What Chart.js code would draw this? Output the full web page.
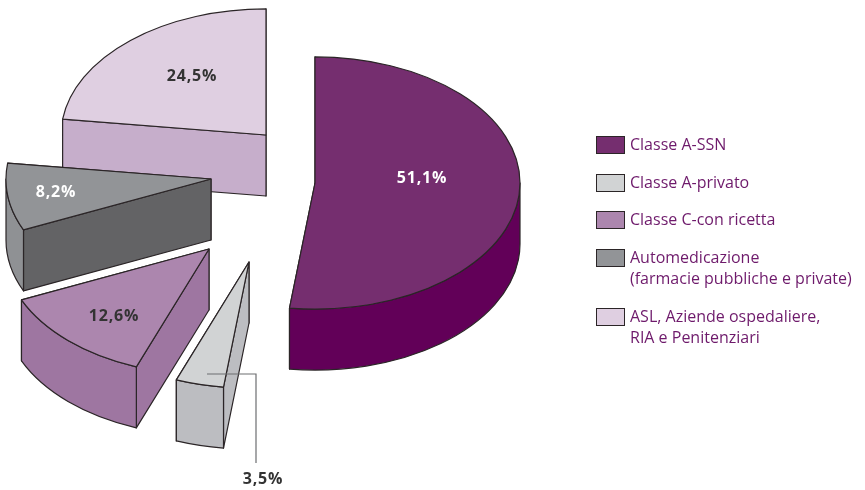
<!DOCTYPE html>
<html>
<head>
<meta charset="utf-8">
<style>
  html, body { margin: 0; background: #fff; }
  #contenitore { position: relative; width: 865px; height: 490px; overflow: hidden; }
  canvas { display: block; }
  #legenda { position: absolute; left: 596px; top: 134px; font: 16px/21.5px 'Open Sans', sans-serif; color: #6e1a6b; white-space: nowrap; }
  .voce { position: relative; padding-left: 34px; margin-bottom: 16px; }
  .quadrato { position: absolute; left: 0; top: 2px; width: 27px; height: 16px; border: 1px solid #2b2527; }
</style>
<script src="https://cdn.jsdelivr.net/npm/chart.js@4/dist/chart.umd.min.js"></script>
</head>
<body>
<div id="contenitore">
  <canvas id="torta" width="865" height="490"></canvas>
  <div id="legenda"></div>
</div>
<script>
const categorie = [
    'Classe A-SSN',
    'Classe A-privato',
    'Classe C-con ricetta',
    ['Automedicazione', '(farmacie pubbliche e private)'],
    ['ASL, Aziende ospedaliere,', 'RIA e Penitenziari']
];
const valori = [51.1, 3.5, 12.6, 8.2, 24.5];

const coloriTop = ['#752e6f', '#d1d3d4', '#ac86ae', '#929497', '#dfcfe1'];
const coloriRadiale = ['#620058', '#bcbdc1', '#9e76a1', '#636365', '#c6aecb'];
const coloriCurva = ['#620058', '#bcbdc1', '#9e76a1', '#8f9194', '#c6aecb'];
const coloriEtichette = ['#ffffff', '#333333', '#333333', '#ffffff', '#333333'];

// spostamento di ogni fetta dal centro del grafico
const spostamenti = [[-117.5, -62], [-183.5, 17], [-223.5, 4], [-221.5, -66], [-166.5, -110]];
// correzione di prospettiva dei bordi delle fette, in gradi
const prospettiva = [0, 3, 4, 4, 5.5, 0];
const posEtichette = [[107, -5], [14, 217], [-95, 67], [-155, 13], [-74, -59]];
const guidaEtichetta = [[-42, 112], [7, 112], [7, 201]];
const ordine = [4, 3, 2, 1, 0];

const SCHIACCIA = 0.615;
const SPESSORE = 61;
const LINEA = '#2b2527';

const torta3d = {
    id: 'torta3d',
    beforeDatasetsDraw(chart) {
        const ctx = chart.ctx;
        const archi = chart.getDatasetMeta(0).data;

        ordine.forEach(i => {
            const arco = archi[i];
            const { x, y, outerRadius: r, startAngle, endAngle, circumference } = arco;
            const a0 = startAngle + prospettiva[i] * Math.PI / 180;
            const a1 = endAngle + prospettiva[i + 1] * Math.PI / 180;
            const cx = chart.width / 2 + spostamenti[i][0];
            const cy = chart.height / 2 + spostamenti[i][1];
            const bordo = a => [cx + r * Math.cos(a), cy + r * SCHIACCIA * Math.sin(a)];

            ctx.save();
            ctx.lineWidth = 1.2;
            ctx.lineJoin = 'round';
            ctx.strokeStyle = LINEA;

            // facce radiali, prima quella dietro
            [a1, a0].forEach(a => {
                const p = bordo(a);
                ctx.beginPath();
                ctx.moveTo(cx, cy);
                ctx.lineTo(p[0], p[1]);
                ctx.lineTo(p[0], p[1] + SPESSORE);
                ctx.lineTo(cx, cy + SPESSORE);
                ctx.closePath();
                ctx.fillStyle = coloriRadiale[i];
                ctx.fill();
                ctx.stroke();
            });

            // faccia curva, solo la parte davanti
            const c0 = Math.max(a0, 0);
            const c1 = Math.min(a1, Math.PI);
            if (c1 > c0) {
                const p = bordo(c1);
                ctx.beginPath();
                ctx.ellipse(cx, cy, r, r * SCHIACCIA, 0, c0, c1);
                ctx.lineTo(p[0], p[1] + SPESSORE);
                ctx.ellipse(cx, cy + SPESSORE, r, r * SCHIACCIA, 0, c1, c0, true);
                ctx.closePath();
                ctx.fillStyle = coloriCurva[i];
                ctx.fill();
                ctx.stroke();
            }

            // faccia superiore: la disegna l'arco di Chart.js
            arco.startAngle = a0;
            arco.endAngle = a1;
            arco.circumference = a1 - a0;
            ctx.save();
            ctx.translate(cx, cy);
            ctx.scale(1, SCHIACCIA);
            ctx.translate(-x, -y);
            arco.draw(ctx, chart.chartArea);
            ctx.restore();
            arco.startAngle = startAngle;
            arco.endAngle = endAngle;
            arco.circumference = circumference;

            ctx.beginPath();
            ctx.moveTo(cx, cy);
            ctx.ellipse(cx, cy, r, r * SCHIACCIA, 0, a0, a1);
            ctx.closePath();
            ctx.stroke();
            ctx.restore();
        });

        disegnaEtichette(chart);
        return false;
    }
};

function disegnaEtichette(chart) {
    const ctx = chart.ctx;
    ctx.save();
    ctx.font = "bold 16px 'Open Sans'";
    ctx.letterSpacing = '0.8px';
    ctx.textAlign = 'center';
    ctx.textBaseline = 'middle';
    valori.forEach((v, i) => {
        const cx = chart.width / 2 + spostamenti[i][0];
        const cy = chart.height / 2 + spostamenti[i][1];
        if (i === 1) {
            ctx.beginPath();
            guidaEtichetta.forEach((p, k) => {
                if (k === 0) ctx.moveTo(cx + p[0], cy + p[1]);
                else ctx.lineTo(cx + p[0], cy + p[1]);
            });
            ctx.strokeStyle = '#6d6e71';
            ctx.lineWidth = 1.2;
            ctx.stroke();
        }
        ctx.fillStyle = coloriEtichette[i];
        ctx.fillText(`${v.toFixed(1).replace('.', ',')}%`, cx + posEtichette[i][0], cy + posEtichette[i][1]);
    });
    ctx.restore();
}

new Chart(document.getElementById('torta'), {
    type: 'pie',
    data: {
        labels: categorie,
        datasets: [{
            data: valori,
            backgroundColor: coloriTop,
            borderWidth: 0,
            hoverOffset: 0
        }]
    },
    options: {
        responsive: false,
        animation: false,
        events: [],
        layout: { padding: { top: 40, bottom: 40 } },
        plugins: {
            tooltip: { enabled: false },
            legend: { display: false }
        }
    },
    plugins: [torta3d]
});

const legenda = document.getElementById('legenda');
categorie.forEach((nome, i) => {
    const voce = document.createElement('div');
    voce.className = 'voce';
    const quadrato = document.createElement('span');
    quadrato.className = 'quadrato';
    quadrato.style.background = coloriTop[i];
    voce.appendChild(quadrato);
    [].concat(nome).forEach(riga => {
        const testo = document.createElement('div');
        testo.textContent = riga;
        voce.appendChild(testo);
    });
    legenda.appendChild(voce);
});
</script>
</body>
</html>
